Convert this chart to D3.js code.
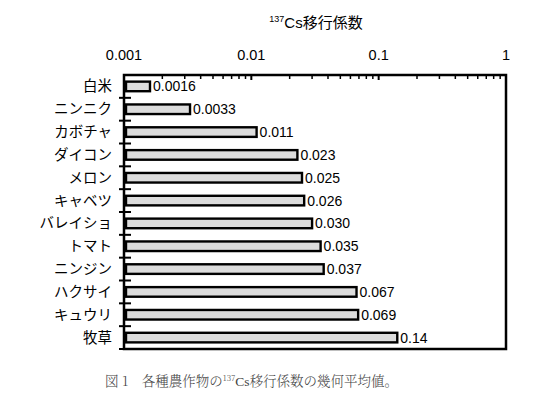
<!DOCTYPE html>
<html><head><meta charset="utf-8">
<script src="https://cdn.jsdelivr.net/npm/d3@7/dist/d3.min.js"></script>
<style>body{margin:0;background:#fff}</style>
</head><body>
<svg id="c" width="560" height="420"></svg>
<script>
const categories = ["白米","ニンニク","カボチャ","ダイコン","メロン","キャベツ","バレイショ","トマト","ニンジン","ハクサイ","キュウリ","牧草"];
const values = [0.0016,0.0033,0.011,0.023,0.025,0.026,0.030,0.035,0.037,0.067,0.069,0.14];
const valueLabels = ["0.0016","0.0033","0.011","0.023","0.025","0.026","0.030","0.035","0.037","0.067","0.069","0.14"];
const tickValues = [0.001,0.01,0.1,1];
const tickLabels = ["0.001","0.01","0.1","1"];

const svg = d3.select("#c");
const L=124, R=506, T=75, B=349;
const x = d3.scaleLog().domain([0.001,1]).range([L,R]);
const y = d3.scaleBand().domain(categories).range([T,B]).paddingInner(0.58).paddingOuter(0.29);
const band = d3.scaleBand().domain(categories).range([T,B]);
const sans = "Liberation Sans, Arial, sans-serif";
const jp = "'Noto Sans CJK JP', sans-serif";

// minor ticks (top, inward)
const minor = [];
for (let e=-3;e<0;e++) for (let m=2;m<=9;m++) minor.push(m*Math.pow(10,e));
svg.append("g").selectAll("line").data(minor).join("line")
  .attr("x1",d=>x(d)).attr("x2",d=>x(d)).attr("y1",T).attr("y2",T+4)
  .attr("stroke","#000").attr("stroke-width",1.5);
svg.append("g").selectAll("line").data(tickValues).join("line")
  .attr("x1",d=>x(d)).attr("x2",d=>x(d)).attr("y1",T).attr("y2",T+5)
  .attr("stroke","#000").attr("stroke-width",2);

// tick labels
svg.append("g").selectAll("text").data(tickValues).join("text")
  .attr("x",d=>x(d)).attr("y",60).attr("text-anchor","middle")
  .attr("font-family",sans).attr("font-size",14.5).attr("fill","#000")
  .text((d,i)=>tickLabels[i]);

// axis title
const t = svg.append("text").attr("x",316).attr("y",28).attr("text-anchor","middle")
  .attr("font-family",jp).attr("font-size",15).attr("fill","#000");
t.append("tspan").attr("font-family",sans).attr("font-size",9).attr("dy",-6).text("137");
t.append("tspan").attr("font-family",sans).attr("dy",6).text("Cs");
t.append("tspan").text("移行係数");

// left category ticks
const bounds = categories.slice(1).map(c=>band(c));
bounds.push(B);
svg.append("g").selectAll("line").data(bounds).join("line")
  .attr("x1",L-5).attr("x2",L+7).attr("y1",d=>d).attr("y2",d=>d)
  .attr("stroke","#000").attr("stroke-width",2);

// bars
svg.append("g").selectAll("rect").data(values).join("rect")
  .attr("x",x(0.001)+2).attr("y",(d,i)=>y(categories[i]))
  .attr("width",d=>x(d)-x(0.001)-2).attr("height",y.bandwidth())
  .attr("fill","#dcdcdc").attr("stroke","#000").attr("stroke-width",2.4);

// value labels
svg.append("g").selectAll("text").data(values).join("text")
  .attr("x",d=>x(d)+3).attr("y",(d,i)=>y(categories[i])+y.bandwidth()/2+5)
  .attr("font-family",sans).attr("font-size",14).attr("fill","#000")
  .text((d,i)=>valueLabels[i]);

// category labels
svg.append("g").selectAll("text").data(categories).join("text")
  .attr("x",112).attr("y",d=>band(d)+band.bandwidth()/2+5)
  .attr("text-anchor","end").attr("font-family",jp).attr("font-size",14.5).attr("fill","#000")
  .text(d=>d);

// frame
svg.append("rect").attr("x",L).attr("y",T).attr("width",R-L).attr("height",B-T)
  .attr("fill","none").attr("stroke","#000").attr("stroke-width",2.5);

// caption
const cap = svg.append("text").attr("x",105).attr("y",386)
  .attr("font-family","'Noto Serif CJK JP','Noto Sans CJK JP',serif").attr("font-size",13.5)
  .attr("font-weight",300).attr("fill","#444");
cap.append("tspan").text("図 1　各種農作物の");
cap.append("tspan").attr("font-size",8).attr("dy",-5).text("137");
cap.append("tspan").attr("dy",5).attr("font-family","Liberation Serif, serif").text("Cs");
cap.append("tspan").text("移行係数の幾何平均値。");
</script>
</body></html>
